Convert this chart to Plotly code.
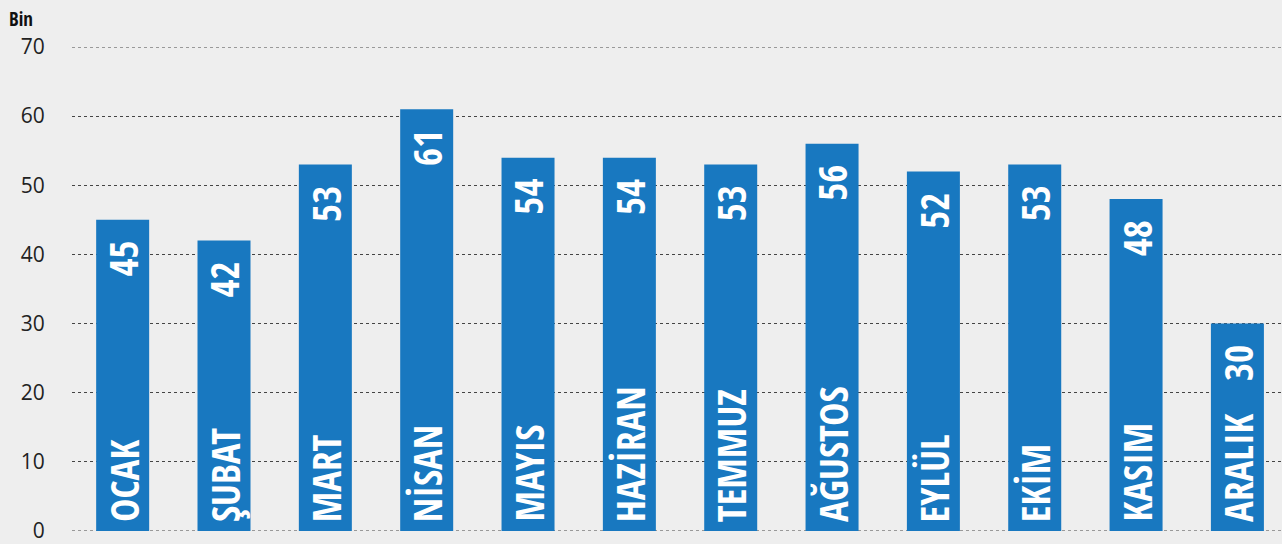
import plotly.graph_objects as go

# Monthly totals, in thousands
months = ["OCAK", "ŞUBAT", "MART", "NİSAN", "MAYIS", "HAZİRAN",
          "TEMMUZ", "AĞUSTOS", "EYLÜL", "EKİM", "KASIM", "ARALIK"]
values = [45, 42, 53, 61, 54, 54, 53, 56, 52, 53, 48, 30]
y_ticks = [0, 10, 20, 30, 40, 50, 60, 70]

BG = "#eeeeee"
BAR = "#1878c0"
GRID = "#444444"
COND = "Open Sans Condensed, Roboto Condensed, sans-serif"

# plot area in pixels
L, T, PW, PH = 72, 47, 1210, 487

x = list(range(len(months)))

fig = go.Figure(go.Bar(
    x=x, y=values, marker=dict(color=BAR, line=dict(width=0)),
    hoverinfo="skip",
))

annotations = []
for xi, m, v in zip(x, months, values):
    # value near the top of the bar
    annotations.append(dict(
        x=xi, y=v, xref="x", yref="y", text=f"<b>{v}</b>", showarrow=False,
        textangle=-90, xanchor="center", yanchor="top", yshift=-20,
        borderpad=0, font=dict(family=COND, size=39, color="white"),
    ))
    # month name at the base of the bar
    annotations.append(dict(
        x=xi, y=0, xref="x", yref="y", text=f"<b>{m}</b>", showarrow=False,
        textangle=-90, xanchor="center", yanchor="bottom", yshift=8,
        borderpad=0, font=dict(family=COND, size=39, color="white"),
    ))

# unit label above the axis
annotations.append(dict(
    x=(8 - L) / PW, y=1 + (T - 5) / PH, xref="paper", yref="paper",
    xanchor="left", yanchor="top", text="<b>Bin</b>", showarrow=False,
    borderpad=0, font=dict(family=COND, size=19, color="#111111"),
))

# dotted lines at the ends of the value range
shapes = [dict(type="line", xref="paper", yref="y", x0=0, x1=1, y0=yv, y1=yv,
               line=dict(color=GRID, width=1, dash="dot"), layer="below")
          for yv in (y_ticks[0], y_ticks[-1])]

fig.update_layout(
    width=1282, height=544,
    margin=dict(l=L, r=0, t=T, b=10),
    paper_bgcolor=BG, plot_bgcolor=BG,
    bargap=0.477,
    showlegend=False,
    annotations=annotations,
    shapes=shapes,
    xaxis=dict(range=[-0.5, 11.44], showticklabels=False, showgrid=False,
               zeroline=False, showline=False, fixedrange=True),
    yaxis=dict(range=[0, 70], tickvals=y_ticks, showgrid=True,
               gridcolor=GRID, gridwidth=1, griddash="dot",
               zeroline=False, showline=False,
               ticks="outside", ticklen=22, tickcolor=BG,
               ticklabeloverflow="allow",
               tickfont=dict(family="Open Sans, sans-serif", size=21, color="#222222"),
               fixedrange=True),
)

fig.write_html("out.html")
